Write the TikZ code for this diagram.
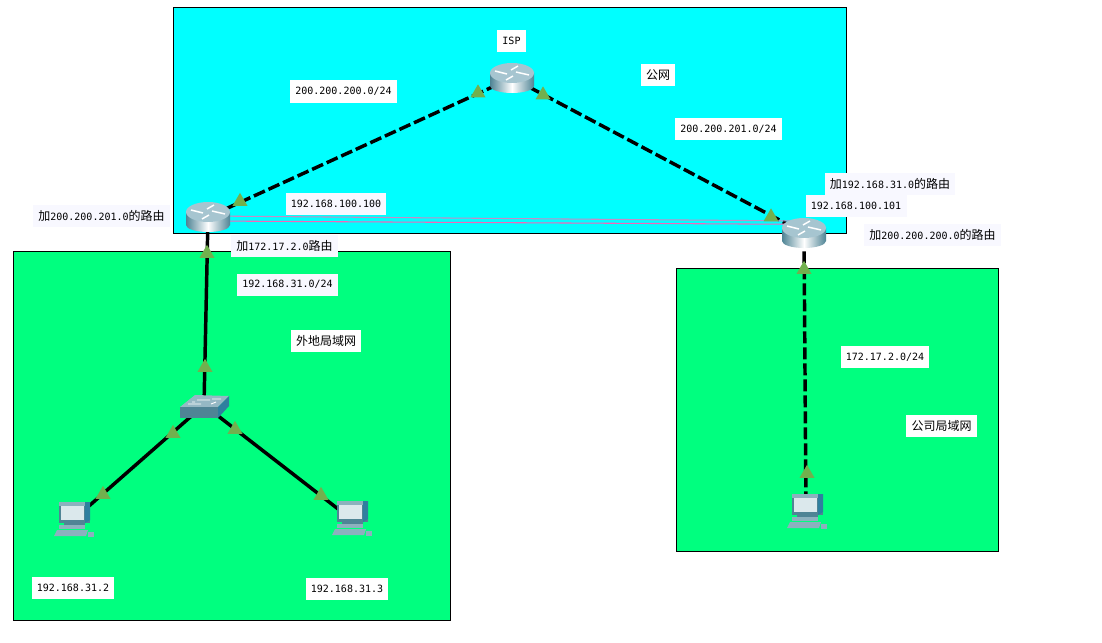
\documentclass[tikz,border=0pt]{standalone}
\usepackage{fontspec}
\setmonofont{DejaVu Sans Mono}
\newfontfamily\cnfont{Noto Sans CJK SC}
\usetikzlibrary{shapes.geometric}
\definecolor{pubarea}{HTML}{00FFFF}
\definecolor{lanarea}{HTML}{00FF7F}
\definecolor{linkgreen}{HTML}{72B04E}
\definecolor{devdark}{HTML}{4F8495}
\definecolor{devtop}{HTML}{A6C5D0}
\definecolor{devside}{HTML}{2F7F9F}
\definecolor{labelbg}{HTML}{F8F8FF}
\newcommand{\cn}[1]{{\cnfont\fontsize{9}{10}\selectfont #1}}

\begin{document}
\begin{tikzpicture}[
    x=0.75pt, y=-0.75pt,
    area/.style={draw=black, line width=0.75pt},
    lnk/.style={line width=2.6pt, black},
    vpn/.style={line width=0.8pt},
    dashlnk/.style={lnk, dash pattern=on 9pt off 3pt},
    lbl/.style={font=\ttfamily\fontsize{7.5}{9}\selectfont, fill=white, text=black, inner xsep=4pt, inner ysep=0pt, minimum height=16.5pt},
    rtlbl/.style={lbl, fill=labelbg},
    lamp/.style={regular polygon, regular polygon sides=3, fill=linkgreen, inner sep=0pt, minimum size=13pt},
    dev/.style={inner sep=0pt, minimum size=3pt},
    router/.pic={
      \shade[left color=devdark, right color=devdark, middle color=white]
        (-22,-5) -- (-22,8) arc[start angle=180, end angle=0, x radius=22, y radius=7] -- (22,-5) -- cycle;
      \fill[devtop] (0,-5) ellipse[x radius=22, y radius=10];
      \draw[white, line width=1.1pt] (-17,-7) -- (-5,-4);
      \draw[white, line width=1.1pt] (17,-3) -- (4,-6);
      \draw[white, line width=1.1pt] (-1,-8) -- (6,-12);
      \draw[white, line width=1.1pt] (1,-2) -- (-6,2);
    },
    switch/.pic={
      \fill[devtop!80!devdark] (-24,2) -- (-9,-10) -- (25,-9) -- (14,2) -- cycle;
      \fill[devdark] (-24,2) rectangle (14,13);
      \fill[devside] (14,2) -- (25,-9) -- (25,1) -- (14,13) -- cycle;
      \draw[white, line width=0.7pt] (-7,-5) -- (6,-5) (8,-6) -- (17,-6) (-16,-1) -- (-3,-1) (-9,-3) -- (-12,-3) (7,-1) -- (12,-3);
    },
    pcbox/.pic={
      \fill[devdark] (-14,-18) rectangle (17,3);
      \fill[devtop!70!devdark] (-14,-18) -- (12,-18) -- (12,-14) -- (-14,-14) -- cycle;
      \fill[devside] (12,-18) -- (17,-18) -- (17,0) -- (12,3) -- cycle;
      \fill[devtop!40!white] (-12,-14) rectangle (11,0);
      \fill[devdark] (-9,3) rectangle (12,5);
      \fill[devtop!70!devdark] (-14,5) rectangle (12,9);
      \fill[devtop!70!devdark] (-16,10) -- (-19,16) -- (13,16) -- (15,10) -- cycle;
      \fill[devtop!70!devdark] (15,12) rectangle (21,17);
    },
  ]
    \useasboundingbox (0,0) rectangle (1102,642);
    \fill[white] (0,0) rectangle (1102,642);

    % ===== AREAS =====
    \filldraw[area, fill=pubarea] (173,8) rectangle (846,233);
    \filldraw[area, fill=lanarea] (13,251) rectangle (450,620);
    \filldraw[area, fill=lanarea] (676,268) rectangle (998,551);

    % ===== DEVICE ANCHORS =====
    \node[dev] (isp) at (512,78) {};
    \node[dev] (rtleft) at (208,217) {};
    \node[dev] (rtright) at (804,233) {};
    \node[dev] (sw) at (204,405) {};
    \node[dev] (pcone) at (73,520) {};
    \node[dev] (pctwo) at (351,519) {};
    \node[dev] (pcthree) at (806,512) {};

    % ===== LINKS =====
    \draw[dashlnk] (rtleft) -- (isp);
    \draw[dashlnk] (isp) -- (rtright);
    \draw[dashlnk] (rtright) -- (pcthree);
    \draw[lnk] (rtleft) -- (sw);
    \draw[lnk] (sw) -- (pcone);
    \draw[lnk] (sw) -- (pctwo);

    % Tunnel between the two routers
    \draw[vpn, color=violet!45!white] ([yshift=0.75pt]rtleft.center) -- ([yshift=9pt]rtright.center);
    \draw[vpn, color=magenta!60!white] ([yshift=-3pt]rtleft.center) -- ([yshift=6.5pt]rtright.center);

    % ===== LINK LAMPS =====
    \node[lamp] (lampa) at (240,201.5) {};
    \node[lamp] (lampb) at (478,93) {};
    \node[lamp] (lampc) at (543,95) {};
    \node[lamp] (lampd) at (771,217) {};
    \node[lamp] (lampe) at (207,253.5) {};
    \node[lamp] (lampf) at (804,269.5) {};
    \node[lamp] (lampg) at (205,367.5) {};
    \node[lamp] (lamph) at (173,433.5) {};
    \node[lamp] (lampi) at (235,429.5) {};
    \node[lamp] (lampj) at (103,494.5) {};
    \node[lamp] (lampk) at (321,495.5) {};
    \node[lamp] (lampl) at (807,473.5) {};

    % ===== DEVICES =====
    \pic at (isp) {router};
    \pic at (rtleft) {router};
    \pic at (rtright) {router};
    \pic at (sw) {switch};
    \foreach \p in {pcone,pctwo,pcthree}{
      \pic at (\p) {pcbox};
    }

    % ===== LABELS =====
    \node[lbl] (lblisp) at (511.5,41) {ISP};
    \node[lbl] (lblnetl) at (343.5,91.5) {200.200.200.0/24};
    \node[lbl] (lblpub) at (658,75.5) {\cn{公网}};
    \node[lbl] (lblnetr) at (728.5,129) {200.200.201.0/24};
    \node[rtlbl] (lblrouteb) at (890,183.5) {\cn{加}192.168.31.0\cn{的路由}};
    \node[rtlbl] (lblipr) at (856,205.5) {192.168.100.101};
    \node[rtlbl] (lblroutec) at (932.5,234.5) {\cn{加}200.200.200.0\cn{的路由}};
    \node[rtlbl] (lblroutea) at (101.5,216) {\cn{加}200.200.201.0\cn{的路由}};
    \node[rtlbl] (lblipl) at (336,204) {192.168.100.100};
    \node[rtlbl] (lblrouted) at (284.5,246) {\cn{加}172.17.2.0\cn{路由}};
    \node[rtlbl] (lbllan) at (287.5,284.5) {192.168.31.0/24};
    \node[lbl] (lblremote) at (326,340.5) {\cn{外地局域网}};
    \node[lbl] (lblcolan) at (885,357) {172.17.2.0/24};
    \node[lbl] (lblcompany) at (941.5,425.5) {\cn{公司局域网}};
    \node[lbl] (lblpcone) at (73,587.5) {192.168.31.2};
    \node[lbl] (lblpctwo) at (347,588.5) {192.168.31.3};
\end{tikzpicture}
\end{document}
